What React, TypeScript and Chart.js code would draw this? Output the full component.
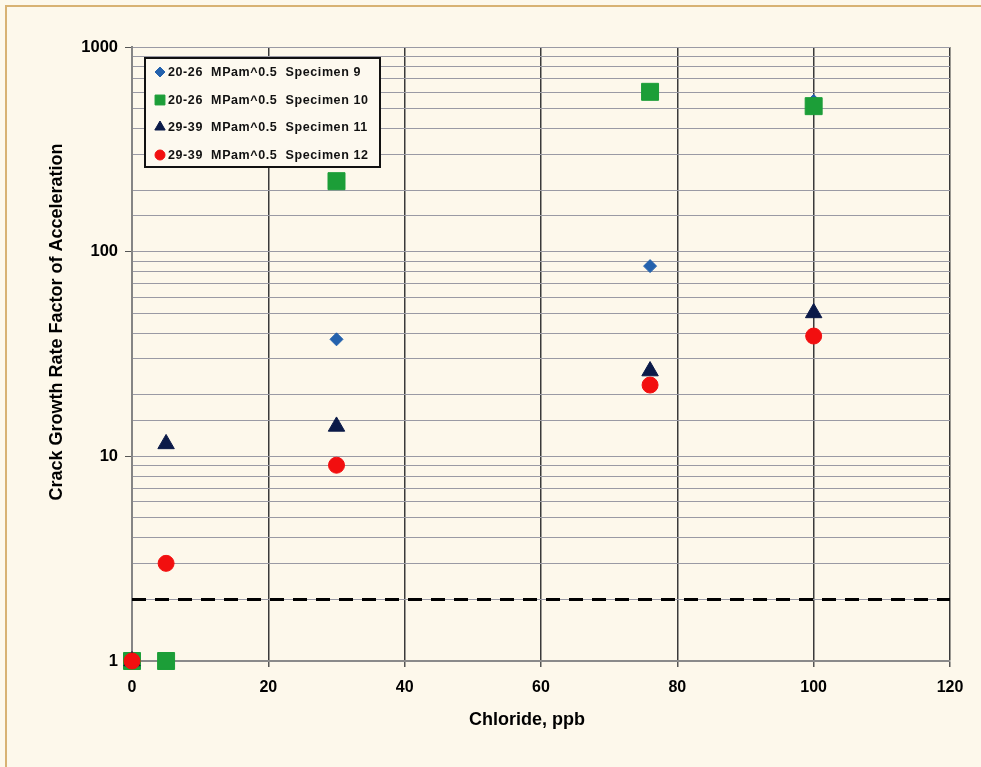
import React, { useEffect, useRef } from "react";
import { Chart, registerables } from "chart.js";
import { drawPoint } from "chart.js/helpers";

Chart.register(...registerables);

// Chloride concentration (ppb) and acceleration factor per specimen
const spec9X = [0, 30, 76, 100];
const spec9Y = [1, 37.3, 85, 545];
const spec10X = [0, 5, 30, 76, 100];
const spec10Y = [1, 1, 221, 604, 514];
const spec11X = [0, 5, 30, 76, 100];
const spec11Y = [1, 11.5, 14, 26.1, 50.2];
const spec12X = [0, 5, 30, 76, 100];
const spec12Y = [1, 3, 9.05, 22.3, 38.7];

const thresholdX = [0, 120];
const thresholdY = [2, 2];

const seriesLabels = [
  "20-26  MPam^0.5  Specimen 9",
  "20-26  MPam^0.5  Specimen 10",
  "29-39  MPam^0.5  Specimen 11",
  "29-39  MPam^0.5  Specimen 12",
];
const yTickLabels = [1, 10, 100, 1000];
const xTitle = "Chloride, ppb";
const yTitle = "Crack Growth Rate Factor of Acceleration";

const BG = "#fdf8eb";
const FONT = "'Liberation Sans', Arial, sans-serif";

const styles = [
  { pointStyle: "rectRot", color: "#2462ad", radius: 6.5, legendRadius: 5 },
  { pointStyle: "rect", color: "#1c9e38", radius: 12, legendRadius: 7 },
  { pointStyle: "triangle", color: "#0b1a48", radius: 9.5, legendRadius: 6 },
  { pointStyle: "circle", color: "#f20f0f", radius: 8, legendRadius: 5 },
];

const zip = (xs: number[], ys: number[]) => xs.map((x, i) => ({ x, y: ys[i] }));

const isDecade = (v: number) => {
  const l = Math.log10(v);
  return Math.abs(l - Math.round(l)) < 1e-9;
};

const annotations = {
  id: "annotations",
  afterDraw(chart: any) {
    const ctx = chart.ctx as CanvasRenderingContext2D;
    ctx.save();
    // axis titles
    ctx.fillStyle = "#000";
    ctx.font = `bold 18px ${FONT}`;
    ctx.textAlign = "center";
    ctx.textBaseline = "middle";
    ctx.fillText(xTitle, 527, 720);
    ctx.save();
    ctx.translate(57, 322);
    ctx.rotate(-Math.PI / 2);
    ctx.fillText(yTitle, 0, 0);
    ctx.restore();

    // legend box
    const bx = 145, by = 58, bw = 235, bh = 109;
    ctx.fillStyle = "#fdf9ef";
    ctx.fillRect(bx, by, bw, bh);
    ctx.strokeStyle = "#111";
    ctx.lineWidth = 2;
    ctx.strokeRect(bx, by, bw, bh);
    const rows = [72, 100, 127, 155];
    ctx.font = `bold 12.5px ${FONT}`;
    (ctx as any).letterSpacing = "0.6px";
    ctx.textAlign = "left";
    seriesLabels.forEach((label, i) => {
      const s = styles[i];
      ctx.fillStyle = s.color;
      ctx.strokeStyle = s.color;
      ctx.lineWidth = 1;
      drawPoint(ctx, { pointStyle: s.pointStyle as any, radius: s.legendRadius, rotation: 0, borderWidth: 1 }, 160, rows[i]);
      ctx.fillStyle = "#111";
      ctx.fillText(label, 168, rows[i] + 0.5);
    });
    ctx.restore();
  },
};

export default function App() {
  const ref = useRef<HTMLCanvasElement>(null);
  useEffect(() => {
    if (!ref.current) return;
    const pointSets = [
      zip(spec9X, spec9Y),
      zip(spec10X, spec10Y),
      zip(spec11X, spec11Y),
      zip(spec12X, spec12Y),
    ];
    const chart = new Chart(ref.current, {
      type: "scatter",
      data: {
        datasets: [
          ...pointSets.map((data, i) => ({
            label: seriesLabels[i],
            data,
            pointStyle: styles[i].pointStyle as any,
            pointRadius: styles[i].radius,
            backgroundColor: styles[i].color,
            borderColor: styles[i].color,
            borderWidth: 1,
            showLine: false,
            clip: false as any,
            order: 4 - i,
          })),
          {
            label: "threshold",
            data: zip(thresholdX, thresholdY),
            showLine: true,
            borderColor: "#000",
            borderWidth: 3,
            borderDash: [14, 9],
            pointRadius: 0,
            order: 10,
          },
        ],
      },
      options: {
        animation: false,
        responsive: false,
        devicePixelRatio: 1,
        layout: { padding: { left: 0, top: 47, right: 31, bottom: 0 } },
        plugins: { legend: { display: false }, tooltip: { enabled: false } },
        scales: {
          x: {
            type: "linear",
            min: 0,
            max: 120,
            afterFit: (s: any) => {
              s.height = 106;
            },
            ticks: {
              stepSize: 20,
              color: "#000",
              font: { family: FONT, size: 16, weight: "bold" },
              padding: 11,
            },
            grid: {
              color: (c: any) => (c.tick && c.tick.value === 0 ? "rgba(0,0,0,0)" : "#3a3a3a"),
              lineWidth: 1.5,
              tickLength: 6,
              tickColor: "#555",
            },
            border: { color: "#8a8a8a", width: 2 },
          },
          y: {
            type: "logarithmic",
            min: 1,
            max: 1000,
            afterFit: (s: any) => {
              s.width = 132;
            },
            ticks: {
              autoSkip: false,
              color: "#000",
              font: { family: FONT, size: 16.5, weight: "bold" },
              padding: 7,
              callback: (v: any) => {
                const n = Number(v);
                return isDecade(n) && yTickLabels.includes(Math.round(n)) ? String(Math.round(n)) : "";
              },
            },
            grid: {
              color: "#9a9aa4",
              lineWidth: 1,
              tickLength: 7,
              tickColor: (c: any) => (c.tick && isDecade(c.tick.value) ? "#555" : "rgba(0,0,0,0)"),
            },
            border: { color: "#858585", width: 2 },
          },
        },
      },
      plugins: [annotations],
    });
    return () => chart.destroy();
  }, []);

  return (
    <div style={{ position: "fixed", left: 0, top: 0, width: 981, height: 767, background: BG, overflow: "hidden" }}>
      <div
        style={{
          position: "absolute",
          left: 5,
          top: 5,
          width: 1000,
          height: 800,
          borderTop: "2px solid #d8b273",
          borderLeft: "2px solid #d8b273",
        }}
      />
      <canvas ref={ref} width={981} height={767} style={{ position: "absolute", left: 0, top: 0 }} />
    </div>
  );
}
